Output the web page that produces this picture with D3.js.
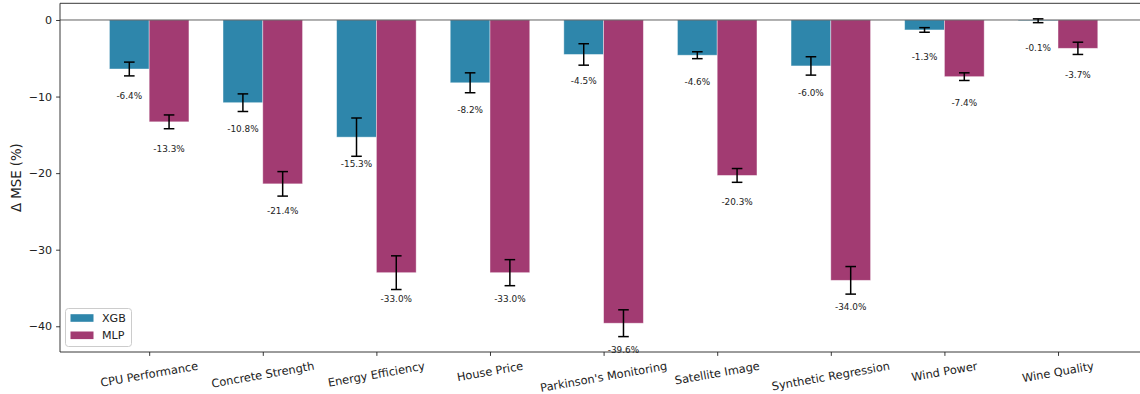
<!DOCTYPE html>
<html>
<head>
<meta charset="utf-8">
<script src="https://cdn.jsdelivr.net/npm/d3@7"></script>
<style>
  html, body { margin: 0; padding: 0; background: #fff; }
  svg { display: block; font-family: "DejaVu Sans", sans-serif; }
</style>
</head>
<body>
<svg id="chart" width="1140" height="394"></svg>
<script>
// Change in MSE (%) per dataset, mean and spread for each model
const categories = ["CPU Performance", "Concrete Strength", "Energy Efficiency", "House Price",
  "Parkinson's Monitoring", "Satellite Image", "Synthetic Regression", "Wind Power", "Wine Quality"];
const xgbMean = [-6.4, -10.8, -15.3, -8.2, -4.5, -4.6, -6.0, -1.3, -0.1];
const xgbErr  = [0.9, 1.15, 2.5, 1.3, 1.4, 0.45, 1.2, 0.3, 0.25];
const mlpMean = [-13.3, -21.4, -33.0, -33.0, -39.6, -20.3, -34.0, -7.4, -3.7];
const mlpErr  = [0.9, 1.6, 2.2, 1.7, 1.75, 0.9, 1.8, 0.5, 0.8];
const yTicks  = [0, -10, -20, -30, -40];
const seriesNames = ["XGB", "MLP"];
const seriesColors = ["#2E86AB", "#A23B72"];

const svg = d3.select("#chart");
const plotLeft = 60, plotTop = 3.3, plotBottom = 352;
const barW = 0.35;

const x = d3.scaleLinear().domain([-0.785, categories.length - 1 + 0.785]).range([plotLeft, 1147.2]);
const y = d3.scaleLinear().domain([2.18, -43.36]).range([plotTop, plotBottom]);
const plotRight = x.range()[1];

const series = [
  { name: seriesNames[0], mean: xgbMean, err: xgbErr, color: seriesColors[0], off: -barW / 2 },
  { name: seriesNames[1], mean: mlpMean, err: mlpErr, color: seriesColors[1], off: barW / 2 }
];

// bars
series.forEach(s => {
  svg.append("g").selectAll("rect").data(s.mean).join("rect")
    .attr("x", (d, i) => x(i + s.off - barW / 2))
    .attr("width", x(barW) - x(0))
    .attr("y", d => y(Math.max(0, d)))
    .attr("height", d => Math.abs(y(d) - y(0)))
    .attr("fill", s.color)
    .attr("stroke", "#fff").attr("stroke-opacity", 0.5).attr("stroke-width", 0.8);
});

// zero reference line
svg.append("line")
  .attr("x1", plotLeft).attr("x2", plotRight)
  .attr("y1", y(0)).attr("y2", y(0))
  .attr("stroke", "#444").attr("stroke-opacity", 0.85).attr("stroke-width", 1);

// error bars and value labels
series.forEach(s => {
  const g = svg.append("g");
  s.mean.forEach((m, i) => {
    const cx = x(i + s.off);
    const e = s.err[i];
    g.append("line").attr("x1", cx).attr("x2", cx).attr("y1", y(m + e)).attr("y2", y(m - e))
      .attr("stroke", "#000").attr("stroke-width", 1.5);
    [m + e, m - e].forEach(v => {
      g.append("line").attr("x1", cx - 5.3).attr("x2", cx + 5.3).attr("y1", y(v)).attr("y2", y(v))
        .attr("stroke", "#000").attr("stroke-width", 1.5);
    });
    g.append("text")
      .attr("x", cx).attr("y", y(m - 3.5))
      .attr("text-anchor", "middle").attr("dominant-baseline", "central")
      .attr("font-size", "8.9px").attr("fill", "#222")
      .text(m.toFixed(1) + "%");
  });
});

// spines
const spine = svg.append("g").attr("stroke", "#222").attr("stroke-width", 0.9).attr("fill", "none");
spine.append("line").attr("x1", plotLeft).attr("x2", plotLeft).attr("y1", plotTop).attr("y2", plotBottom);
spine.append("line").attr("x1", plotLeft).attr("x2", plotRight).attr("y1", plotBottom).attr("y2", plotBottom);
spine.append("line").attr("x1", plotLeft).attr("x2", plotRight).attr("y1", plotTop).attr("y2", plotTop);
spine.append("line").attr("x1", plotRight).attr("x2", plotRight).attr("y1", plotTop).attr("y2", plotBottom);

// y axis
const yAxis = d3.axisLeft(y).tickValues(yTicks).tickSize(3.9).tickPadding(4)
  .tickFormat(d => d < 0 ? "\u2212" + Math.abs(d) : String(d));
const gy = svg.append("g").attr("transform", `translate(${plotLeft},0)`).call(yAxis);
gy.select(".domain").remove();
gy.selectAll(".tick line").attr("stroke", "#222").attr("stroke-width", 0.9);
gy.selectAll(".tick text").attr("font-size", "11.1px").attr("fill", "#222")
  .attr("font-family", "DejaVu Sans, sans-serif");

// x axis ticks
const xAxis = d3.axisBottom(x).tickValues(d3.range(categories.length)).tickSize(3.9).tickFormat("");
const gx = svg.append("g").attr("transform", `translate(0,${plotBottom})`).call(xAxis);
gx.select(".domain").remove();
gx.selectAll(".tick line").attr("stroke", "#222").attr("stroke-width", 0.9);

// rotated category labels, centred on their ticks
const ang = 10 * Math.PI / 180;
const labFont = 11.4;
const labTop = plotBottom + 3.9 + 3.2;
categories.forEach((c, i) => {
  const t = svg.append("text")
    .attr("text-anchor", "middle").attr("dominant-baseline", "central")
    .attr("font-size", labFont + "px").attr("fill", "#222")
    .text(c);
  const L = t.node().getComputedTextLength();
  const h = labFont * 1.17;
  const cy = labTop + (L * Math.sin(ang) + h * Math.cos(ang)) / 2;
  const cx = x(i);
  t.attr("x", cx).attr("y", cy).attr("transform", `rotate(-10,${cx},${cy})`);
});

// y axis title
svg.append("text")
  .attr("transform", `translate(16,${(plotTop + plotBottom) / 2}) rotate(-90)`)
  .attr("text-anchor", "middle").attr("dominant-baseline", "central")
  .attr("font-size", "13.3px").attr("fill", "#222")
  .text("\u0394 MSE (%)");

// legend
const lg = svg.append("g");
lg.append("rect").attr("x", 65.5).attr("y", 308.5).attr("width", 66).attr("height", 38).attr("rx", 3)
  .attr("fill", "#fff").attr("fill-opacity", 0.8).attr("stroke", "#ccc").attr("stroke-width", 1);
series.forEach((s, k) => {
  const cy = 318 + k * 17.3;
  lg.append("rect").attr("x", 70.5).attr("y", cy - 3.8).attr("width", 23).attr("height", 7.6)
    .attr("fill", s.color);
  lg.append("text").attr("x", 102).attr("y", cy).attr("dominant-baseline", "central")
    .attr("font-size", "11.1px").attr("fill", "#222").text(s.name);
});
</script>
</body>
</html>
